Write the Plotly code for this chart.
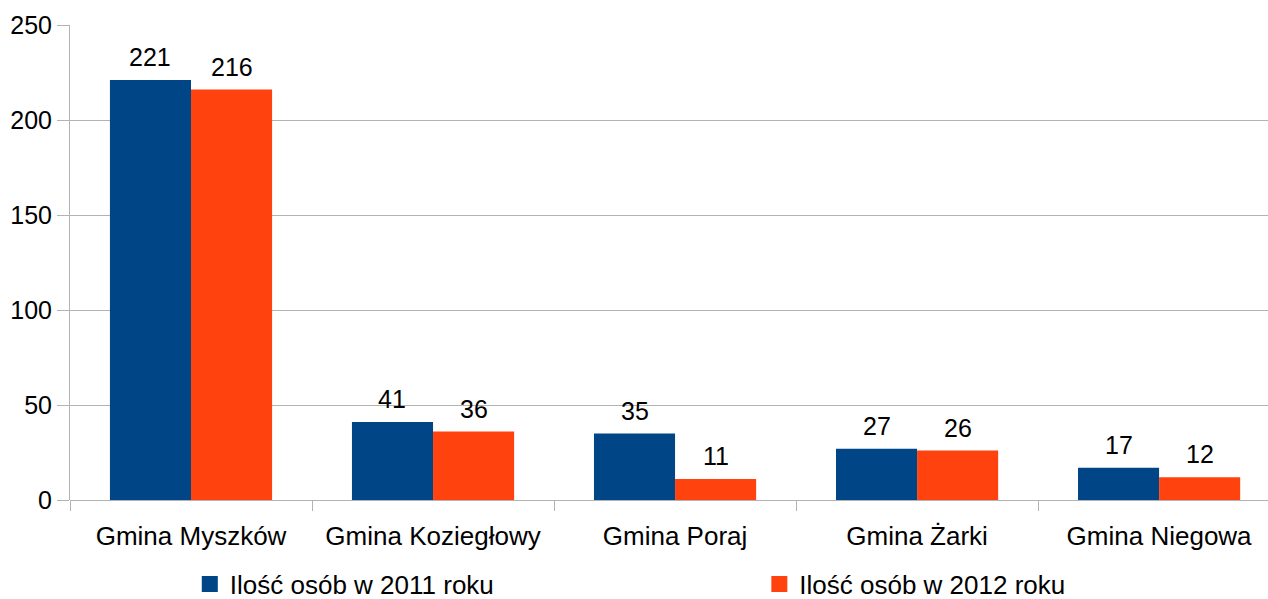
import plotly.graph_objects as go

categories = ["Gmina Myszków", "Gmina Koziegłowy", "Gmina Poraj", "Gmina Żarki", "Gmina Niegowa"]
series_2011 = [221, 41, 35, 27, 17]
series_2012 = [216, 36, 11, 26, 12]
name_2011 = "Ilość osób w 2011 roku"
name_2012 = "Ilość osób w 2012 roku"
y_ticks = [0, 50, 100, 150, 200, 250]
color_2011 = "#004586"
color_2012 = "#ff420e"

FAM = "Liberation Sans, Arial, sans-serif"
font = dict(family=FAM, size=26, color="black")
numfont = dict(family=FAM, size=25, color="black")
grid = "#b3b3b3"

fig = go.Figure()
fig.add_trace(go.Bar(x=categories, y=series_2011, name=name_2011,
                     marker=dict(color=color_2011, line=dict(width=0)), showlegend=False))
fig.add_trace(go.Bar(x=categories, y=series_2012, name=name_2012,
                     marker=dict(color=color_2012, line=dict(width=0)), showlegend=False))
# legend entries with larger square keys
fig.add_trace(go.Scatter(x=[None], y=[None], mode="markers", name=name_2011, legend="legend",
                         marker=dict(symbol="square", size=17, color=color_2011)))
fig.add_trace(go.Scatter(x=[None], y=[None], mode="markers", name=name_2012, legend="legend2",
                         marker=dict(symbol="square", size=17, color=color_2012)))

bargap = 0.33
plot_w = 1268 - 70
x_range = [-0.5, len(categories) - 0.55]
cat_w = plot_w / (x_range[1] - x_range[0])
bar_w = cat_w * (1 - bargap) / 2
for vals, sign in ((series_2011, -1), (series_2012, 1)):
    for c, v in zip(categories, vals):
        fig.add_annotation(x=c, y=v, text=str(v), showarrow=False, yanchor="bottom",
                           xanchor="center", xshift=sign * bar_w / 2, yshift=7, font=numfont)

top_m = 25
bot_plot = 99
ph = 599 - top_m
fig.update_layout(
    width=1268, height=599,
    margin=dict(l=70, r=0, t=top_m, b=0, autoexpand=False),
    plot_bgcolor="white", paper_bgcolor="white",
    font=font,
    barmode="group", bargap=bargap, bargroupgap=0,
    showlegend=True,
    legend=dict(orientation="h", x=0.100, xanchor="left", y=15 / ph, yanchor="middle",
                font=font, bgcolor="rgba(0,0,0,0)"),
    legend2=dict(orientation="h", x=0.5754, xanchor="left", y=15 / ph, yanchor="middle",
                 font=font, bgcolor="rgba(0,0,0,0)"),
)
fig.update_xaxes(range=x_range, showline=False, tickson="boundaries", ticks="outside", ticklen=10,
                 tickcolor=grid, tickwidth=1, showgrid=False, tickfont=font, zeroline=False,
                 ticklabelstandoff=18)
fig.update_yaxes(range=[0, 250], tickvals=y_ticks, showgrid=True, gridcolor=grid, gridwidth=1,
                 domain=[bot_plot / ph, 1],
                 showline=True, linecolor=grid, linewidth=1, ticks="outside", ticklen=12,
                 tickcolor=grid, tickfont=numfont, zeroline=True, zerolinecolor=grid, zerolinewidth=1,
                 ticklabelstandoff=0)

fig.write_html("out.html", config={"displayModeBar": False},
               post_script="document.body.style.margin='0';")
